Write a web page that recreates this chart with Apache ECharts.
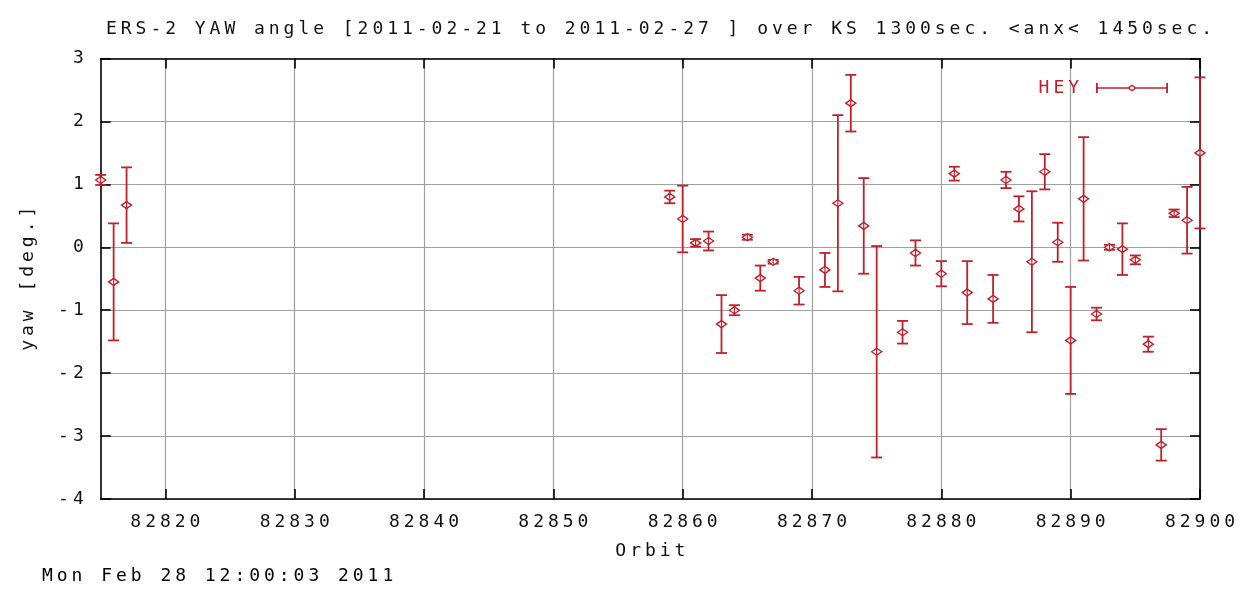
<!DOCTYPE html>
<html>
<head>
<meta charset="utf-8">
<script src="https://cdn.jsdelivr.net/npm/echarts@6/dist/echarts.min.js"></script>
<style>html,body{margin:0;padding:0;background:#fff;}#c{width:1245px;height:590px;}</style>
</head>
<body>
<div id="c"></div>
<script>
// ---- data ----
const orbits = [82815, 82816, 82817, 82859, 82860, 82861, 82862, 82863, 82864, 82865, 82866, 82867, 82869, 82871, 82872, 82873, 82874, 82875, 82877, 82878, 82880, 82881, 82882, 82884, 82885, 82886, 82887, 82888, 82889, 82890, 82891, 82892, 82893, 82894, 82895, 82896, 82897, 82898, 82899, 82900];
const yaw = [1.07, -0.55, 0.67, 0.80, 0.45, 0.07, 0.10, -1.22, -1.00, 0.16, -0.49, -0.23, -0.69, -0.36, 0.70, 2.29, 0.34, -1.66, -1.35, -0.09, -0.42, 1.17, -0.72, -0.82, 1.07, 0.61, -0.23, 1.20, 0.08, -1.48, 0.77, -1.06, 0.00, -0.03, -0.20, -1.54, -3.14, 0.54, 0.43, 1.50];
const yawErr = [0.08, 0.93, 0.60, 0.10, 0.53, 0.06, 0.15, 0.46, 0.08, 0.04, 0.20, 0.03, 0.22, 0.27, 1.40, 0.45, 0.76, 1.68, 0.18, 0.20, 0.20, 0.11, 0.50, 0.38, 0.13, 0.20, 1.12, 0.28, 0.31, 0.85, 0.98, 0.10, 0.04, 0.41, 0.07, 0.12, 0.25, 0.06, 0.53, 1.20];
const xTicks = [82820, 82830, 82840, 82850, 82860, 82870, 82880, 82890, 82900];
const titleText = 'ERS-2 YAW angle [2011-02-21 to 2011-02-27 ] over KS 1300sec. <anx< 1450sec.';
const seriesName = 'HEY';
const xName = 'Orbit';
const yName = 'yaw [deg.]';
const dateText = 'Mon Feb 28 12:00:03 2011';

// ---- style ----
const RED = '#c0202a';
const FONT = 'DejaVu Sans Mono';
const FS = 18;
const PITCH = 14.8;
function sp(s) {
  return s.split('').map(c => '{c|' + c + '}').join('');
}
function rich(color) {
  return { c: { width: PITCH, align: 'center', fontFamily: FONT, fontSize: FS, fontWeight: 'normal', color: color || '#111', lineHeight: 20 } };
}

const data = orbits.map((o, i) => [o, yaw[i], yawErr[i]]);

const chart = echarts.init(document.getElementById('c'), null, { renderer: 'canvas' });

const legendIcon = 'path://M0,0h1.8v10h-1.8z M70.2,0h1.8v10h-1.8z M0,4.2h31.5v1.6h-31.5z M40.5,4.2h31.5v1.6h-31.5z ' +
  'M31,5L36,1.5L41,5L36,8.5Z M33.4,5L36,6.8L38.6,5L36,3.2Z';

chart.setOption({
  animation: false,
  backgroundColor: '#fff',
  title: {
    text: sp(titleText),
    left: 99,
    top: 14,
    textStyle: { rich: rich('#111') }
  },
  legend: {
    data: [{ name: seriesName, icon: legendIcon }],
    right: 72,
    top: 74,
    align: 'right',
    itemWidth: 72,
    itemHeight: 10,
    itemGap: 0,
    formatter: n => sp(n),
    textStyle: { rich: rich(RED), padding: [0, 10, 0, 0] },
    itemStyle: { color: RED, borderWidth: 0 }
  },
  grid: { left: 100.7, right: 45, top: 58.5, bottom: 91, containLabel: false },
  xAxis: [{
    type: 'value',
    min: 82815, max: 82900, interval: 10,
    name: sp(xName),
    nameLocation: 'middle',
    nameGap: 42,
    nameTextStyle: { rich: rich('#111') },
    axisLine: { show: true, onZero: false, lineStyle: { color: '#000', width: 1.6 } },
    axisTick: { show: true, inside: true, length: 10, customValues: xTicks, lineStyle: { color: '#000', width: 1.6 } },
    axisLabel: { show: true, customValues: xTicks, margin: 13, formatter: v => sp(String(v)), rich: rich('#111') },
    splitLine: { show: true, lineStyle: { color: '#a0a0a0', width: 1.2 } }
  }, {
    type: 'value', position: 'top',
    min: 82815, max: 82900, interval: 10,
    axisLine: { show: true, onZero: false, lineStyle: { color: '#000', width: 1.6 } },
    axisTick: { show: true, inside: true, length: 10, customValues: xTicks, lineStyle: { color: '#000', width: 1.6 } },
    axisLabel: { show: false },
    splitLine: { show: false }
  }],
  yAxis: [{
    type: 'value',
    min: -4, max: 3, interval: 1,
    name: sp(yName),
    nameLocation: 'middle',
    nameRotate: 90,
    nameGap: 62,
    nameTextStyle: { rich: rich('#111') },
    axisLine: { show: true, onZero: false, lineStyle: { color: '#000', width: 1.6 } },
    axisTick: { show: true, inside: true, length: 10, lineStyle: { color: '#000', width: 1.6 } },
    axisLabel: { show: true, margin: 15, formatter: v => sp(String(v)), rich: rich('#111') },
    splitLine: { show: true, lineStyle: { color: '#a0a0a0', width: 1.2 } }
  }, {
    type: 'value', position: 'right',
    min: -4, max: 3, interval: 1,
    axisLine: { show: true, onZero: false, lineStyle: { color: '#000', width: 1.6 } },
    axisTick: { show: true, inside: true, length: 10, lineStyle: { color: '#000', width: 1.6 } },
    axisLabel: { show: false },
    splitLine: { show: false }
  }],
  graphic: [{
    type: 'text',
    left: 40,
    top: 567,
    style: { text: sp(dateText), rich: rich('#111') }
  }],
  series: [{
    name: seriesName,
    type: 'custom',
    xAxisIndex: 0,
    yAxisIndex: 0,
    clip: false,
    data: data,
    encode: { x: 0, y: 1 },
    itemStyle: { color: RED },
    renderItem: function (params, api) {
      const x = api.value(0), y = api.value(1), e = api.value(2);
      const c = api.coord([x, y]);
      const t = api.coord([x, y + e]);
      const b = api.coord([x, y - e]);
      const cw = 5.5;
      const st = { stroke: RED, lineWidth: 1.8, fill: null };
      return {
        type: 'group',
        children: [
          { type: 'line', shape: { x1: c[0], y1: t[1], x2: c[0], y2: b[1] }, style: st },
          { type: 'line', shape: { x1: c[0] - cw, y1: t[1], x2: c[0] + cw, y2: t[1] }, style: st },
          { type: 'line', shape: { x1: c[0] - cw, y1: b[1], x2: c[0] + cw, y2: b[1] }, style: st },
          { type: 'polygon', shape: { points: [[c[0] - 5, c[1]], [c[0], c[1] - 3.5], [c[0] + 5, c[1]], [c[0], c[1] + 3.5]] },
            style: { stroke: RED, lineWidth: 1.4, fill: '#fff' } },
          { type: 'line', shape: { x1: c[0], y1: c[1] - 3.5, x2: c[0], y2: c[1] + 3.5 }, style: { stroke: RED, lineWidth: 1.2 } }
        ]
      };
    }
  }]
});
</script>
</body>
</html>
